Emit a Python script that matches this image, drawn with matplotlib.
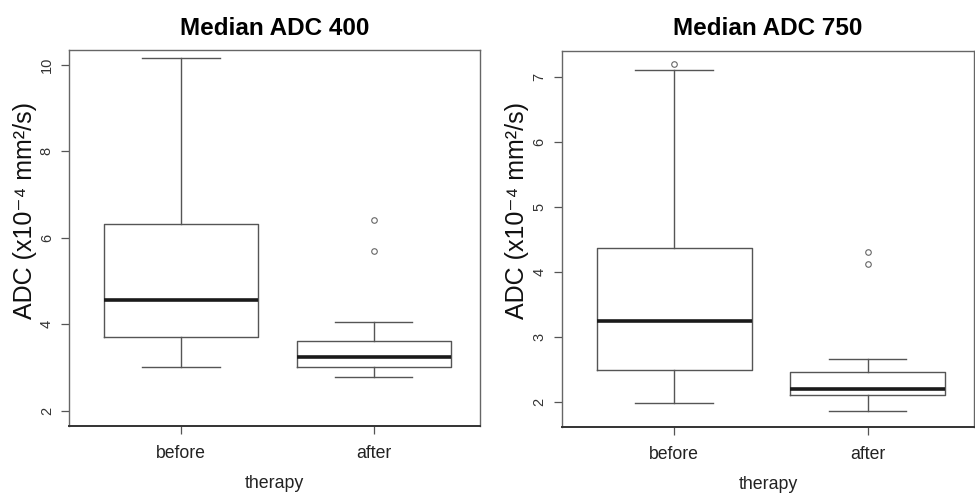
import matplotlib
matplotlib.use("Agg")
import matplotlib.pyplot as plt

plt.rcParams['font.family'] = ['Liberation Sans', 'DejaVu Sans']

categories = ["before", "after"]

# Box statistics: whislo, q1, med, q3, whishi, outliers
adc400_before = dict(whislo=3.01, q1=3.70, med=4.57, q3=6.33, whishi=10.16, fliers=[])
adc400_after = dict(whislo=2.78, q1=3.01, med=3.25, q3=3.61, whishi=4.06, fliers=[5.69, 6.41])
adc750_before = dict(whislo=1.98, q1=2.48, med=3.24, q3=4.37, whishi=7.11, fliers=[7.20])
adc750_after = dict(whislo=1.86, q1=2.10, med=2.19, q3=2.46, whishi=2.66, fliers=[4.12, 4.30])

titles = ["Median ADC 400", "Median ADC 750"]
yticks400 = [2, 4, 6, 8, 10]
yticks750 = [2, 3, 4, 5, 6, 7]
ylims = [(1.65, 10.34), (1.615, 7.40)]

fig = plt.figure(figsize=(9.75, 4.96), dpi=100)
ax1 = fig.add_axes([0.0708, 0.1411, 0.4215, 0.758])
ax2 = fig.add_axes([0.5764, 0.1397, 0.4226, 0.758])

lc = "#555555"
panels = [
    (ax1, [adc400_before, adc400_after], yticks400, -0.078),
    (ax2, [adc750_before, adc750_after], yticks750, -0.080),
]
for i, (ax, stats, yt, lx) in enumerate(panels):
    bxp = []
    for lab, s in zip(categories, stats):
        d = dict(s)
        d["label"] = lab
        bxp.append(d)
    ax.bxp(bxp, positions=[1, 2], widths=0.8, showfliers=True,
           boxprops=dict(color=lc, linewidth=1.0),
           whiskerprops=dict(color=lc, linewidth=1.0),
           capprops=dict(color=lc, linewidth=1.0),
           medianprops=dict(color="#1a1a1a", linewidth=2.6, solid_capstyle="butt"),
           flierprops=dict(marker="o", markersize=4, markerfacecolor="none",
                           markeredgecolor="#666666", markeredgewidth=0.8),
           capwidths=0.4)
    ax.set_xlim(0.42, 2.55)
    ax.set_ylim(*ylims[i])
    ax.set_yticks(yt)
    ax.set_yticklabels([str(v) for v in yt], rotation=90, va="center", fontsize=10.5, color="#333333")
    ax.set_xticks([1, 2])
    ax.set_xticklabels(categories, fontsize=12.7, color="#222222")
    ax.tick_params(axis="both", direction="out", length=6, width=0.9, color=lc)
    ax.tick_params(axis="x", pad=8)
    ax.tick_params(axis="y", pad=5)
    for sp in ax.spines.values():
        sp.set_color("#666666")
        sp.set_linewidth(1.0)
    ax.spines["bottom"].set_color("#333333")
    ax.spines["bottom"].set_linewidth(1.4)
    ax.set_title(titles[i], fontsize=17.5, fontweight="bold", pad=11)
    ax.set_xlabel("therapy", fontsize=12.8, labelpad=9, color="#222222")
    ax.set_ylabel("ADC (x10\u207b\u2074 mm\u00b2/s)", fontsize=18, color="#111111")
    ax.yaxis.set_label_coords(lx, 0.574)

fig.savefig("out.png", dpi=100)
